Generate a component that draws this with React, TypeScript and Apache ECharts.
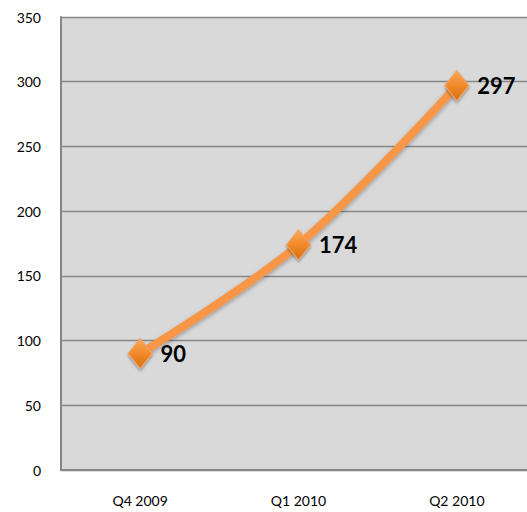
import React, { useEffect, useRef } from "react";
import * as echarts from "echarts";

const categories = ["Q4 2009", "Q1 2010", "Q2 2010"];
const values = [90, 174, 297];
const yTicks = { min: 0, max: 350, interval: 50 };

export default function App() {
  const ref = useRef<HTMLDivElement>(null);
  useEffect(() => {
    if (!ref.current) return;
    const chart = echarts.init(ref.current, null, { renderer: "svg" });
    chart.setOption({
      animation: false,
      backgroundColor: "#ffffff",
      grid: { left: 61, top: 17, right: 4, bottom: 42, backgroundColor: "#d9d9d9", show: true, borderWidth: 0 },
      xAxis: {
        type: "category",
        data: categories,
        boundaryGap: true,
        axisLine: { lineStyle: { color: "#868686", width: 2 } },
        axisTick: { show: false },
        axisLabel: { color: "#000", fontFamily: "Lato", fontSize: 14, margin: 23 },
      },
      yAxis: {
        type: "value",
        min: yTicks.min,
        max: yTicks.max,
        interval: yTicks.interval,
        axisLine: { show: true, lineStyle: { color: "#868686", width: 2 } },
        axisTick: { show: false },
        splitLine: { lineStyle: { color: "#868686", width: 1.3 } },
        axisLabel: { color: "#000", fontFamily: "Lato", fontSize: 14, margin: 20 },
      },
      series: [
        {
          type: "line",
          data: values,
          smooth: 0.35,
          symbol: "diamond",
          symbolSize: [24, 30],
          lineStyle: {
            color: "#f79646",
            width: 8,
            shadowColor: "rgba(0,0,0,0.3)",
            shadowBlur: 4,
            shadowOffsetY: 2,
          },
          itemStyle: {
            color: new echarts.graphic.LinearGradient(0, 0, 0, 1, [
              { offset: 0, color: "#f9a75a" },
              { offset: 0.5, color: "#f28a2a" },
              { offset: 1, color: "#d46e12" },
            ]),
            borderColor: "#f4a362",
            borderWidth: 1,
            shadowColor: "rgba(0,0,0,0.35)",
            shadowBlur: 3,
            shadowOffsetY: 2,
          },
          label: {
            show: true,
            position: "right",
            distance: 8,
            color: "#000",
            fontFamily: "Lato",
            fontWeight: "bold",
            fontSize: 22,
          },
        },
      ],
    });
    return () => chart.dispose();
  }, []);
  return (
    <div style={{ position: "fixed", left: 0, top: 0, width: 527, height: 512, overflow: "hidden" }}>
      <div ref={ref} style={{ width: 540, height: 512 }} />
    </div>
  );
}
